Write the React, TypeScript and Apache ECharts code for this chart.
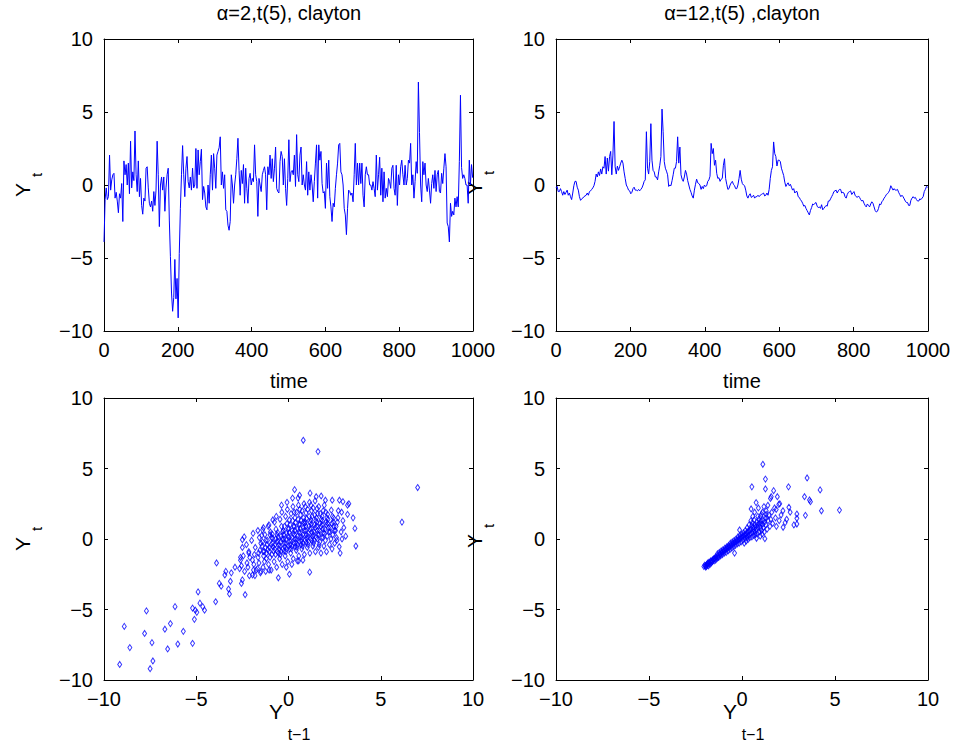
import React, { useEffect, useRef } from "react";
import * as echarts from "echarts";

// Sampling step of the read-off series (time units between stored values)
const TIME_STEP = 3;

// Top-left: alpha=2, t(5), clayton  (values at t = 0, 3, 6, ... 999)
const SERIES_A: number[] = [
  -3.9, -1.0, -0.2, -1.0, -0.8, 2.05, -0.35, 0.35, 0.7, 0.8,
  -0.9, -0.5, -1.1, -1.9, -0.6, -0.9, 0.1, -2.5, 1.65, 0.7,
  1.4, 0, 1.5, -0.6, 3.0, -0.2, 0.9, 0.3, 3.7, 0.7,
  -0.45, 1.65, -0.8, 0.45, -1.4, -2.0, -0.9, -1.1, 1.15, 1.25,
  -0.2, -1.25, -1.5, -1.1, -1.8, -0.45, -1.4, -0.35, 3.0, 0.7,
  -2.85, 0, 0.55, -0.35, 0.55, -1.8, -0.2, 0.7, 1.15, -2.4,
  -4.9, -7.4, -8.65, -7.7, -5.1, -7.8, -6.4, -9.1, -4.7, -1.6,
  0.7, 2.7, 0.7, -0.8, 1.15, 1.95, 0.23, -0.2, 0.55, -0.35,
  1.15, -0.2,
  0, 2.5, -0.23, 2.4, 0.7, 1.6, 2.45, -1.0, -0.1, -0.55,
  -1.5, -1.7, 0, -1.25, 0.7, 2.05, -0.35, 2.15, 1.15, -0.23,
  2.05, 2.3, 2.55, 3.3, 0, 0.9, -0.23, 0.7, -1.7, -1.8,
  -2.75, -3.1, -2.5, 0.7, 0, -1.25, 0, 0.7, 1.8, 3.2,
  1.0, -0.7, 1.0, 0.1, 1.4, -1.25, 1.15, -0.23, -1.25, 0.45,
  0.8, 0, 0.45, 0.23, 2.75, 0.7, 0.23, -2.15, 0.45, 0,
  -0.45, 0.7, 1.0, 1.25, 0.7, -1.7, 1.25, 0.7, 2.05, 0.45,
  1.8, 0.23, 1.15, 2.6, -0.23, -0.45, -0.55, 1.6, 2.3, 1.95,
  0, 1.8, -0.23,
  -1.4, 0.45, 3.1, 0.23, 0.9, 1.0, 0.7, 2.05, -0.1, 3.45,
  0.7, 0.23, 2.05, 2.6, 0, 0.7, 0, -0.35, 1.6, -0.7,
  0.9, -0.35, 0.7, 0, -1.15, 0.23, 1.5, 2.75, -0.9, 2.75,
  1.7, 2.3, 0.1, -0.55, -0.45, -1.6, 1.5, -0.23, 1.7, -0.8,
  -1.5, -2.5, -1.25, -1.5, -0.23, 0.7, 1.5, 2.75, 2.85, 0.9,
  0.7, 0, -1.6, -2.05, -3.4, -1.6, -0.35, -0.45, -0.7, -0.55,
  -1.15, 0.7, 2.85, 0, 1.5, 0, 1.5, 0.1, 1.5, -0.7,
  -1.5, 0.7, 1.25, 0.7, 0.7, 0, 0, -0.35, 0.23, -0.23,
  -0.8, 2.05, -0.35, 0.7,
  1.9, -0.7, 1.15, -1.15, 0.9, -0.9, -0.23, -0.8, 0.45, 0.23,
  -0.23, 1.15, 1.35, -0.23, -0.7, 1.35, -1.4, 0.7, 0, 1.25,
  1.7, 0.7, 0, 1.35, 0, 0.45, 1.7, 1.5, 2.85, 0,
  0.7, -0.9, 0.23, 1.6, 0.8, 7.05, 3.6, 0, -1.15, 1.6,
  0.7, 1.5, 0, -0.45, 0.45, -0.35, -1.25, 0.1, 0.7, -0.23,
  1.0, -0.45, 0.7, 1.0, -0.45, -0.55, 0.8, 0.1, 1.15, 2.15,
  1.25, -2.6, -2.85, -3.9, -1.25, -2.15, -1.8, -2.05, -0.9, -1.5,
  -0.8, -1.5, 1.6, 6.15, 1.2, 0.45, 0.7, 0.45, 0, 0,
  -1.25, 1.7, 0, 1.4, 0.5,
];

// Top-right: alpha=12, t(5), clayton  (values at t = 0, 3, 6, ... 999)
const SERIES_B: number[] = [
  -0.2, -0.1, -0.45, -0.45, -0.25, -0.45, -0.7, -0.45, -0.65, -0.5,
  -0.35, -0.7, -0.55, -0.8, -1.0, -0.55, -0.05, 0.25, 0.25, -0.15,
  -0.35, -0.8, -1.05, -0.95, -0.9, -0.8, -0.75, -0.7, -0.55, -0.7,
  -0.45, -0.4, -0.3, -0.2, -0.05, 0.25, 0.75, 0.55, 0.9, 0.65,
  1.1, 0.75, 1.25, 1.15, 1.95, 0.75, 1.85, 0.95, 1.95, 2.3,
  0.7, 2.05, 4.35, 1.25, 0.75, 1.3, 1.0, 1.25, 1.5, 1.7,
  1.5, 0.9, 0.45, 0, -0.15, -0.35, -0.4, -0.6, -0.5, -0.25,
  -0.15, -0.35, -0.35, -0.4, -0.3, -0.4, -0.3, -0.2, 0, 0.25,
  0.35, 3.65,
  1.15, 0.75, 1.6, 4.2, 1.7, 1.0, 0.9, 0.55, 0.55, 0.35,
  0.9, 1.35, 1.95, 5.2, 3.65, 1.6, 1.15, 0.95, 0.7, -0.1,
  0, -0.05, 0.3, 0.7, 1.15, 1.15, 1.6, 3.3, 1.5, 2.6,
  0.7, 0.4, 0.25, 0.55, 1.0, 0.75, 0.3, 0, -0.3, -0.5,
  -0.75, -0.9, -0.35, 0.05, 0.4, 0.15, 0.1, 0, -0.3, -0.1,
  -0.25, 0, -0.1, -0.05, 0.25, 0.35, 0.6, 2.85, 2.15, 2.5,
  1.35, 1.7, 0.8, 0.45, 0.5, 0.25, 0.4, 0.45, 1.35, 1.8,
  0.45, 0.05, -0.3, -0.25, 0, 0.15, 0.25, 0.05, -0.05, -0.25,
  -0.25, 0, 0.45,
  1.0, 0.4, 0.1, 0, -0.05, -0.35, -0.75, -0.9, -0.7, -0.6,
  -0.85, -0.8, -0.7, -0.9, -0.8, -0.8, -0.7, -0.8, -0.7, -0.65,
  -0.6, -0.55, -0.75, -0.7, -0.55, -0.7, -0.3, 0.45, 1.0, 1.25,
  2.95, 2.15, 1.95, 1.3, 1.7, 1.7, 1.6, 1.15, 0.9, 0.65,
  0.2, -0.1, 0.05, 0.15, -0.05, 0.05, -0.15, -0.35, -0.25, -0.55,
  -0.45, -0.45, -0.8, -0.85, -1.0, -1.1, -1.25, -1.45, -1.4, -1.6,
  -1.75, -1.9, -2.05, -1.75, -1.55, -1.3, -1.35, -1.25, -1.2, -1.45,
  -1.55, -1.5, -1.6, -1.35, -1.7, -1.6, -1.5, -1.4, -1.45, -1.1,
  -1.1, -0.95, -0.8, -0.65,
  -0.45, -0.4, -0.35, -0.55, -0.4, -0.3, -0.3, -0.55, -0.5, -0.55,
  -0.8, -0.9, -0.65, -0.5, -0.45, -0.4, -0.65, -0.55, -0.45, -0.7,
  -0.8, -0.85, -0.75, -0.85, -1.0, -1.1, -1.05, -1.25, -1.4, -1.5,
  -1.3, -1.4, -1.5, -1.3, -1.15, -1.25, -1.5, -1.75, -1.85, -1.8,
  -1.6, -1.3, -1.35, -1.15, -1.05, -0.9, -0.8, -0.65, -0.6, -0.5,
  -0.35, -0.05, -0.2, -0.35, -0.25, -0.35, -0.35, -0.3, -0.5, -0.65,
  -0.8, -0.7, -0.8, -0.95, -1.1, -1.2, -1.2, -1.4, -1.4, -1.05,
  -0.9, -0.8, -0.9, -0.85, -1.0, -1.1, -1.1, -0.95, -1.0, -0.9,
  -0.8, -0.45, -0.3, -0.1, -0.15,
];

// Bottom-left scatter: [Y(t-1), Y(t)]
const LAG_A: number[][] = [
  [-2.55, -1.9], [-2.45, -1.2], [-2.5, -0.6], [-2.38, -2.3], [-2.6, -1.5],
  [-2.25, -1.7], [-2.15, -0.9], [-2.2, -2.0], [-2.1, -1.3], [-2.28, -0.4], [-2.12, -2.6],
  [-1.95, -1.5], [-1.85, -1.1], [-1.9, -2.2], [-1.8, -0.6], [-2.0, -0.1], [-1.88, -1.8], [-1.92, 0.4], [-1.82, -2.6],
  [-1.65, -1.3], [-1.55, -0.8], [-1.6, -1.7], [-1.5, -0.3], [-1.68, -2.1], [-1.58, 0.1], [-1.62, -1.0], [-1.52, -2.4], [-1.66, 0.6],
  [-1.35, -1.2], [-1.25, -0.6], [-1.3, -1.6], [-1.22, -0.1], [-1.38, -2.0], [-1.28, 0.3], [-1.32, -0.9], [-1.24, -2.3], [-1.36, 0.8], [-1.2, -1.4],
  [-1.05, -0.9], [-0.95, -0.4], [-1.0, -1.3], [-0.92, 0.1], [-1.08, -1.8], [-0.98, 0.5], [-1.02, -0.6], [-0.94, -2.2], [-1.06, 1.0], [-0.9, -1.1], [-1.0, 0.3],
  [-0.75, -0.7], [-0.65, -0.2], [-0.7, -1.1], [-0.62, 0.3], [-0.78, -1.6], [-0.68, 0.7], [-0.72, -0.4], [-0.64, -2.0], [-0.76, 1.2], [-0.6, -0.9], [-0.7, 0.0], [-0.66, 1.6],
  [-0.45, -0.5], [-0.35, 0.0], [-0.4, -0.9], [-0.32, 0.5], [-0.48, -1.4], [-0.38, 0.9], [-0.42, -0.2], [-0.34, -1.8], [-0.46, 1.4], [-0.3, -0.7], [-0.4, 0.2], [-0.36, 1.9], [-0.44, -1.1], [-0.38, 2.4],
  [-0.15, -0.3], [-0.05, 0.2], [-0.1, -0.7], [-0.02, 0.7], [-0.18, -1.2], [-0.08, 1.1], [-0.12, -0.05], [-0.04, -1.6], [-0.16, 1.6], [0.0, -0.5], [-0.1, 0.4], [-0.06, 2.1], [-0.14, -0.9], [-0.08, 2.6], [-0.12, -2.0],
  [0.15, -0.1], [0.25, 0.4], [0.2, -0.5], [0.28, 0.9], [0.12, -1.0], [0.22, 1.3], [0.18, 0.1], [0.26, -1.4], [0.14, 1.8], [0.3, -0.3], [0.2, 0.6], [0.24, 2.3], [0.16, -0.7], [0.22, 2.9], [0.18, -1.8], [0.33, 3.5],
  [0.45, 0.0], [0.55, 0.5], [0.5, -0.4], [0.58, 1.0], [0.42, -0.8], [0.52, 1.4], [0.48, 0.2], [0.56, -1.2], [0.44, 1.9], [0.6, -0.2], [0.5, 0.7], [0.54, 2.4], [0.46, -0.6], [0.52, 2.9], [0.48, -1.55], [0.6, 3.1],
  [0.75, 0.1], [0.85, 0.6], [0.8, -0.3], [0.88, 1.1], [0.72, -0.7], [0.82, 1.5], [0.78, 0.3], [0.86, -1.1], [0.74, 2.0], [0.9, -0.1], [0.8, 0.8], [0.84, 2.5], [0.76, -0.5], [0.82, 1.2], [0.78, -1.5],
  [1.05, 0.2], [1.15, 0.7], [1.1, -0.2], [1.18, 1.2], [1.02, -0.6], [1.12, 1.6], [1.08, 0.4], [1.16, -1.0], [1.04, 2.1], [1.2, 0.0], [1.1, 0.9], [1.14, 2.6], [1.06, -0.4], [1.17, 3.25], [1.15, -2.35],
  [1.35, 0.3], [1.45, 0.8], [1.4, -0.1], [1.48, 1.3], [1.32, -0.5], [1.42, 1.7], [1.38, 0.5], [1.46, -0.9], [1.34, 2.2], [1.5, 0.1], [1.4, 1.0], [1.44, 2.7], [1.36, -0.3], [1.5, 3.0],
  [1.65, 0.3], [1.75, 0.9], [1.7, -0.2], [1.78, 1.4], [1.62, -0.6], [1.72, 1.8], [1.68, 0.6], [1.76, -1.0], [1.64, 2.3], [1.8, 0.1], [1.7, 1.1], [1.77, 3.05], [1.66, -0.4],
  [1.95, 0.4], [2.05, 1.0], [2.0, -0.1], [2.08, 1.5], [1.92, -0.5], [2.02, 1.9], [1.98, 0.7], [2.06, -0.9], [1.94, 2.4], [2.1, 0.2], [2.0, 2.75], [2.04, 1.2],
  [2.25, 0.5], [2.35, 1.1], [2.3, 0.0], [2.38, 1.6], [2.22, -0.4], [2.32, 2.05], [2.28, 0.8], [2.36, -0.7], [2.37, 2.75], [2.4, 0.3],
  [2.55, 0.6], [2.65, 1.2], [2.6, 0.1], [2.68, 1.5], [2.5, -0.3], [2.7, 2.0], [2.58, 0.9], [2.75, -0.55], [2.76, 2.75], [2.62, -0.1],
  [2.85, 0.5], [2.95, 1.3], [2.9, 0.0], [3.0, 0.8], [2.8, -1.0], [2.95, 2.65], [3.1, 0.2], [3.2, 1.75], [3.2, 2.4], [3.27, 2.5], [3.5, 1.5], [3.6, 0.75], [3.65, -0.5], [2.88, 1.9],
  [-1.43, -0.5], [-1.37, -0.9], [-1.41, -0.2], [-1.17, -0.4], [-1.12, -0.75], [-1.14, -0.1], [-1.19, -1.0],
  [-0.87, -0.3], [-0.83, -0.55], [-0.86, 0.05], [-0.81, -0.85], [-0.88, 0.35],
  [-0.57, -0.15], [-0.53, -0.45], [-0.56, 0.15], [-0.51, -0.7], [-0.58, 0.45], [-0.54, -1.0],
  [-0.27, 0.0], [-0.23, -0.3], [-0.26, 0.3], [-0.21, -0.55], [-0.28, 0.6], [-0.24, -0.85], [-0.22, 0.9],
  [0.03, 0.15], [0.07, -0.15], [0.04, 0.45], [0.09, -0.4], [0.02, 0.75], [0.06, -0.7], [0.08, 1.0], [0.05, 1.35],
  [0.33, 0.3], [0.37, 0.0], [0.34, 0.6], [0.39, -0.25], [0.32, 0.9], [0.36, -0.55], [0.38, 1.15], [0.35, 1.5], [0.31, 1.9],
  [0.63, 0.45], [0.67, 0.15], [0.64, 0.75], [0.69, -0.1], [0.62, 1.05], [0.66, -0.4], [0.68, 1.3], [0.65, 1.7], [0.61, 2.1],
  [0.93, 0.6], [0.97, 0.3], [0.94, 0.9], [0.99, 0.05], [0.92, 1.2], [0.96, -0.25], [0.98, 1.45], [0.95, 1.85], [0.91, 2.3],
  [1.23, 0.75], [1.27, 0.45], [1.24, 1.05], [1.29, 0.2], [1.22, 1.35], [1.26, -0.1], [1.28, 1.6], [1.25, 2.0], [1.21, 2.4],
  [1.53, 0.9], [1.57, 0.6], [1.54, 1.2], [1.59, 0.35], [1.52, 1.5], [1.56, 0.0], [1.58, 1.8], [1.55, 2.15],
  [1.83, 1.0], [1.87, 0.7], [1.84, 1.3], [1.89, 0.45], [1.82, 1.6], [1.86, 0.1], [1.88, 2.0],
  [2.13, 1.1], [2.17, 0.8], [2.14, 1.4], [2.19, 0.5], [2.12, 1.75],
  [2.43, 1.2], [2.47, 0.9], [2.44, 1.5], [2.49, 0.6],
  [-0.85, 1.35], [-1.1, 0.9], [-1.4, 0.65], [-1.45, 0.25], [-2.4, 0.15], [-2.5, -0.05], [-2.15, -1.0], [-2.6, -1.3],
  [-3.9, -1.7], [-3.4, -2.3], [-3.45, -2.55], [-3.1, -2.4], [-2.9, -2.0], [-2.65, -2.1], [-3.15, -3.0], [-3.25, -3.55],
  [-3.2, -3.9], [-3.75, -3.15], [-3.65, -3.35], [-3.95, -4.45], [-2.35, -3.95], [-2.55, -3.15], [-2.5, -2.9], [-1.95, -2.55],
  [-1.75, -2.2], [-1.5, -2.3], [-1.05, -2.2], [-0.55, -2.75], [0.05, -2.5], [0.55, -1.55],
  [-4.9, -3.75], [-5.05, -5.05], [-5.2, -4.9], [-4.8, -4.55], [-4.65, -4.8], [-4.55, -5.05], [-4.97, -5.2], [-5.2, -7.4],
  [-5.1, -5.7], [-5.7, -6.55], [-6.0, -7.45], [-6.15, -4.8], [-6.4, -6.0], [-6.55, -7.8], [-6.7, -6.4], [-7.35, -8.65],
  [-7.5, -9.2], [-7.4, -7.35], [-7.8, -6.7], [-7.7, -5.1], [-8.6, -7.7], [-8.9, -6.2], [-9.15, -8.9],
  [0.8, 7.0], [1.6, 6.2], [7.0, 3.65], [6.15, 1.2],
];

// Bottom-right scatter: [Y(t-1), Y(t)]
const LAG_B: number[][] = [
  [-2.05, -1.95], [-2.0, -1.85], [-1.95, -2.0], [-1.9, -1.8], [-1.92, -1.95], [-1.85, -1.75], [-1.8, -1.9], [-1.78, -1.65],
  [-1.72, -1.8], [-1.7, -1.6], [-1.65, -1.7], [-1.6, -1.5], [-1.62, -1.62], [-1.55, -1.45], [-1.5, -1.55], [-1.48, -1.35],
  [-1.42, -1.5], [-1.4, -1.3], [-1.35, -1.4], [-1.3, -1.2], [-1.32, -1.05], [-1.25, -1.3], [-1.2, -1.1], [-1.22, -0.95],
  [-1.15, -1.2], [-1.1, -1.0], [-1.12, -0.85], [-1.05, -1.1], [-1.0, -0.9], [-1.02, -0.75], [-0.95, -1.0], [-0.9, -0.8],
  [-0.92, -0.65], [-0.85, -0.95], [-0.8, -0.7], [-0.82, -0.55], [-0.75, -0.85], [-0.7, -0.6], [-0.72, -0.45], [-0.65, -0.75],
  [-0.6, -0.5], [-0.62, -0.3], [-0.55, -0.65], [-0.5, -0.4], [-0.52, -0.2], [-0.45, -0.55], [-0.4, -0.3], [-0.42, -0.1],
  [-0.4, -1.0], [-0.35, -0.45], [-0.3, -0.2], [-0.32, 0.0], [-0.25, -0.35], [-0.2, -0.1], [-0.22, 0.15], [-0.15, -0.3],
  [-0.1, 0.0], [-0.12, 0.25], [-0.13, 0.64], [-0.05, -0.2], [0.0, 0.1], [-0.02, 0.35], [0.05, -0.1], [0.1, 0.2],
  [0.08, 0.45], [0.12, -0.3], [0.15, 0.05], [0.2, 0.3], [0.18, 0.6], [0.22, -0.15], [0.25, 0.15], [0.3, 0.45],
  [0.28, 0.8], [0.32, -0.05], [0.35, 0.25], [0.4, 0.55], [0.38, 1.0], [0.42, 0.1], [0.45, 0.35], [0.49, 2.13],
  [0.5, 0.7], [0.48, 1.3], [0.53, 0.15], [0.55, 0.45], [0.6, 0.85], [0.58, 1.6], [0.62, 0.25], [0.65, 0.55],
  [0.7, 1.0], [0.68, 1.9], [0.72, 0.3], [0.75, 0.65], [0.76, 2.58], [0.8, 1.2], [0.78, 0.05], [0.82, 0.4],
  [0.85, 0.8], [0.9, 1.4], [0.88, 2.2], [0.92, 0.5], [0.95, 0.9], [1.0, 1.6], [0.98, 0.2], [1.02, 1.1],
  [1.05, 0.6], [1.1, 1.9], [1.08, 0.35], [1.12, 1.3], [1.15, 0.8], [1.12, 5.3], [1.18, 2.3], [1.2, 0.5],
  [1.23, 0.02], [1.26, 4.25], [1.26, 3.55], [1.25, 1.5], [1.28, 1.0], [1.3, 2.0], [1.35, 0.7], [1.39, 2.39],
  [1.4, 1.3], [1.45, 1.7], [1.5, 0.9], [1.53, 2.88], [1.57, 3.0], [1.55, 1.4], [1.6, 1.9], [1.65, 1.1],
  [1.7, 3.43], [1.75, 2.2], [1.8, 1.5], [1.84, 2.1], [1.9, 3.0], [1.85, 0.9], [1.98, 2.46], [2.03, 2.5],
  [2.0, 1.3], [2.1, 1.7], [2.21, 0.83], [2.32, 1.16], [2.2, 2.0], [2.5, 3.7], [2.52, 2.25], [2.59, 1.9],
  [2.4, 1.4], [2.79, 1.0], [2.95, 1.06], [2.95, 1.47], [2.95, 1.77], [3.36, 3.0], [3.41, 1.68], [3.5, 4.33],
  [3.63, 2.77], [3.68, 2.65], [4.2, 3.48], [4.27, 2.0], [5.24, 2.05], [0.53, 3.7],
  [-1.97, -1.9], [-1.87, -1.88], [-1.83, -1.7], [-1.75, -1.72], [-1.68, -1.55], [-1.58, -1.58], [-1.52, -1.42], [-1.45, -1.4],
  [-1.38, -1.25], [-1.28, -1.28], [-1.18, -1.05], [-1.08, -0.95], [-0.98, -0.82], [-0.88, -0.72], [-0.78, -0.6], [-0.68, -0.52],
  [-0.58, -0.4], [-0.48, -0.3], [-0.38, -0.2], [-0.28, -0.08], [-0.18, 0.02], [-0.08, 0.12], [0.02, 0.2], [0.12, 0.3],
  [0.22, 0.4], [0.32, 0.55], [0.42, 0.65], [0.52, 0.95], [0.62, 0.7], [0.72, 0.85], [0.82, 1.0], [0.92, 1.1],
  [1.02, 1.3], [1.12, 1.05], [1.22, 1.2], [1.32, 1.5], [0.55, 1.15], [0.65, 1.35], [0.85, 1.6], [1.05, 1.75],
  [0.3, 0.1], [0.7, 0.45], [1.0, 0.75], [1.3, 1.75],
];

const TITLES = ["\u03b1=2,t(5), clayton", "\u03b1=12,t(5) ,clayton"];
const TIME_AXIS = { min: 0, max: 1000, interval: 200 };
const VALUE_AXIS = { min: -10, max: 10, interval: 5 };
const X_LABEL_TOP = "time";

const FONT = "'Liberation Sans', Arial, Helvetica, sans-serif";
const BLUE = "#0000ff";

const timeSeries = (vals: number[]) => vals.map((v, i) => [i * TIME_STEP, v]);

const GRIDS = [
  { left: 104, top: 39, width: 369, height: 292 },
  { left: 556, top: 39, width: 372, height: 292 },
  { left: 104, top: 398, width: 369, height: 282 },
  { left: 556, top: 398, width: 372, height: 282 },
];

const fmt = (v: number) => String(v).replace("-", "\u2212");

function makeAxes(kind: "x" | "y", g: number, range: { min: number; max: number; interval: number }) {
  const base: any = {
    gridIndex: g,
    type: "value",
    min: range.min,
    max: range.max,
    interval: range.interval,
    axisLine: { show: true, onZero: false, lineStyle: { color: "#000", width: 1 } },
    axisTick: { show: true, inside: true, length: 4, lineStyle: { color: "#000", width: 1 } },
    splitLine: { show: false },
  };
  const main = {
    ...base,
    position: kind === "x" ? "bottom" : "left",
    axisLabel: {
      show: true,
      color: "#000",
      fontSize: 20,
      fontFamily: FONT,
      margin: kind === "x" ? 9 : 11,
      showMinLabel: true,
      showMaxLabel: true,
      formatter: fmt,
    },
  };
  const mirror = { ...base, position: kind === "x" ? "top" : "right", axisLabel: { show: false } };
  return [main, mirror];
}

function textEl(text: string, x: number, y: number, size: number, rotation = 0) {
  return {
    type: "text",
    x,
    y,
    rotation,
    silent: true,
    style: {
      text,
      fill: "#000",
      font: `${size}px ${FONT}`,
      align: "center",
      verticalAlign: "middle",
    },
  };
}

export default function App() {
  const ref = useRef<HTMLDivElement>(null);

  useEffect(() => {
    if (!ref.current) return;
    const chart = echarts.init(ref.current, undefined, { renderer: "svg" });

    const xAxis: any[] = [];
    const yAxis: any[] = [];
    for (let g = 0; g < 4; g++) {
      xAxis.push(...makeAxes("x", g, g < 2 ? TIME_AXIS : VALUE_AXIS));
      yAxis.push(...makeAxes("y", g, VALUE_AXIS));
    }

    const lineSeries = (data: number[][], g: number) => ({
      type: "line",
      xAxisIndex: 2 * g,
      yAxisIndex: 2 * g,
      data,
      symbol: "none",
      showSymbol: false,
      silent: true,
      lineStyle: { color: BLUE, width: 1 },
    });
    const scatterSeries = (data: number[][], g: number) => ({
      type: "scatter",
      xAxisIndex: 2 * g,
      yAxisIndex: 2 * g,
      data,
      symbol: "diamond",
      symbolSize: [4, 6],
      silent: true,
      itemStyle: { color: "rgba(255,255,255,0)", borderColor: BLUE, borderWidth: 1 },
    });

    const graphics: any[] = [
      textEl(TITLES[0], 289, 13, 20),
      textEl(TITLES[1], 742, 13, 20),
      textEl(X_LABEL_TOP, 289, 381, 20),
      textEl(X_LABEL_TOP, 742, 381, 20),
      // y labels (Y with subscript t)
      textEl("Y", 22, 190, 21, Math.PI / 2),
      textEl("t", 36, 175, 15, Math.PI / 2),
      textEl("Y", 474, 188, 21, Math.PI / 2),
      textEl("t", 488, 173, 15, Math.PI / 2),
      textEl("Y", 22, 544, 21, Math.PI / 2),
      textEl("t", 36, 529, 15, Math.PI / 2),
      textEl("Y", 474, 541, 21, Math.PI / 2),
      textEl("t", 488, 526, 15, Math.PI / 2),
      // x labels of the scatter panels (Y with subscript t-1)
      textEl("Y", 276, 711, 21),
      textEl("t\u22121", 299, 734, 16),
      textEl("Y", 730, 711, 21),
      textEl("t\u22121", 753, 734, 16),
    ];

    chart.setOption({
      animation: false,
      backgroundColor: "#fff",
      grid: GRIDS.map((g) => ({ ...g, containLabel: false })),
      xAxis,
      yAxis,
      series: [
        lineSeries(timeSeries(SERIES_A), 0),
        lineSeries(timeSeries(SERIES_B), 1),
        scatterSeries(LAG_A, 2),
        scatterSeries(LAG_B, 3),
      ],
      graphic: graphics,
    });

    return () => chart.dispose();
  }, []);

  return (
    <div
      ref={ref}
      style={{ position: "absolute", left: 0, top: 0, width: 956, height: 755, background: "#fff" }}
    />
  );
}
